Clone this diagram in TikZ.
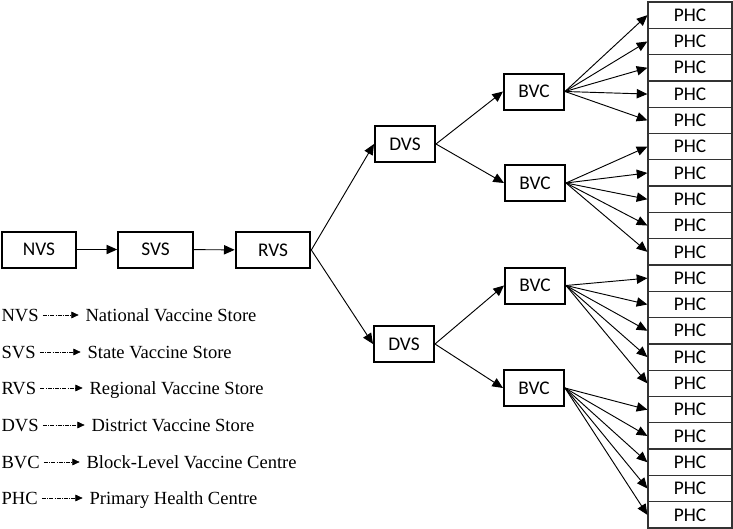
\documentclass[tikz,border=0pt]{standalone}
\usepackage{fontspec}
\setmainfont{Liberation Serif}
\setsansfont{Carlito}
\usepackage{tikz}
\usetikzlibrary{arrows.meta}
\tikzstyle{store}=[draw,line width=1.5pt,minimum height=27pt,inner sep=0pt,font=\sffamily\fontsize{14.5}{16}\selectfont]
\tikzstyle{wide}=[store,minimum width=56pt]
\tikzstyle{narrow}=[store,minimum width=45pt]
\tikzstyle{phc}=[draw=black!80,line width=0.9pt,minimum width=63pt,minimum height=19.7pt,inner sep=0pt,font=\sffamily\fontsize{14.5}{16}\selectfont]
\tikzstyle{feed}=[line width=0.7pt,-{Triangle[length=8pt,width=7pt]}]
\tikzstyle{key}=[anchor=west,inner sep=1pt,text height=10pt,text depth=0.8pt,font=\fontsize{13.9}{16}\selectfont]
\tikzstyle{means}=[line width=0.5pt,densely dash dot,-{Triangle[length=5.5pt,width=5pt]},shorten <=2pt,shorten >=4pt]

\begin{document}
\begin{tikzpicture}[x=0.75pt,y=-0.75pt]
	\useasboundingbox (0,0) rectangle (733,529);

	% supply chain
	\node[wide] (nvs) at (39,249.5) {NVS};
	\node[wide] (svs) at (155.5,249.5) {SVS};
	\node[wide] (rvs) at (273,250) {RVS};
	\node[narrow] (dvsa) at (405,144) {DVS};
	\node[narrow] (dvsb) at (404,344) {DVS};
	\node[narrow] (bvca) at (534,91.5) {BVC};
	\node[narrow] (bvcb) at (535,183) {BVC};
	\node[narrow] (bvcc) at (535,285.5) {BVC};
	\node[narrow] (bvcd) at (534,388) {BVC};

	% primary health centres
	\node[phc] (p1) at (690,15.15) {PHC};
	\node[phc] (p2) at (690,41.45) {PHC};
	\node[phc] (p3) at (690,67.75) {PHC};
	\node[phc] (p4) at (690,94.05) {PHC};
	\node[phc] (p5) at (690,120.35) {PHC};
	\node[phc] (p6) at (690,146.65) {PHC};
	\node[phc] (p7) at (690,172.95) {PHC};
	\node[phc] (p8) at (690,199.25) {PHC};
	\node[phc] (p9) at (690,225.55) {PHC};
	\node[phc] (p10) at (690,251.85) {PHC};
	\node[phc] (p11) at (690,278.15) {PHC};
	\node[phc] (p12) at (690,304.45) {PHC};
	\node[phc] (p13) at (690,330.75) {PHC};
	\node[phc] (p14) at (690,357.05) {PHC};
	\node[phc] (p15) at (690,383.35) {PHC};
	\node[phc] (p16) at (690,409.65) {PHC};
	\node[phc] (p17) at (690,435.95) {PHC};
	\node[phc] (p18) at (690,462.25) {PHC};
	\node[phc] (p19) at (690,488.55) {PHC};
	\node[phc] (p20) at (690,514.85) {PHC};

	\draw[feed] (nvs)--(svs);
	\draw[feed] (svs)--(rvs);
	\draw[feed] (rvs.east)--(dvsa.west);
	\draw[feed] (rvs.east)--(dvsb.west);
	\draw[feed] (dvsa.east)--(bvca.west);
	\draw[feed] (dvsa.east)--(bvcb.west);
	\draw[feed] (dvsb.east)--(bvcc.west);
	\draw[feed] (dvsb.east)--(bvcd.west);

	\draw[feed] (bvca.east)--(p1.west);
	\draw[feed] (bvca.east)--(p2.west);
	\draw[feed] (bvca.east)--(p3.west);
	\draw[feed] (bvca.east)--(p4.west);
	\draw[feed] (bvca.east)--(p5.west);
	\draw[feed] (bvcb.east)--(p6.west);
	\draw[feed] (bvcb.east)--(p7.west);
	\draw[feed] (bvcb.east)--(p8.west);
	\draw[feed] (bvcb.east)--(p9.west);
	\draw[feed] (bvcb.east)--(p10.west);
	\draw[feed] (bvcc.east)--(p11.west);
	\draw[feed] (bvcc.east)--(p12.west);
	\draw[feed] (bvcc.east)--(p13.west);
	\draw[feed] (bvcc.east)--(p14.west);
	\draw[feed] (bvcc.east)--(p15.west);
	\draw[feed] (bvcd.east)--(p16.west);
	\draw[feed] (bvcd.east)--(p17.west);
	\draw[feed] (bvcd.east)--(p18.west);
	\draw[feed] (bvcd.east)--(p19.west);
	\draw[feed] (bvcd.east)--(p20.west);

	% legend
	\node[key] (knvs) at (0,315) {NVS};
	\node[key] (dnvs) at (84,315) {National Vaccine Store};
	\node[key] (ksvs) at (0,352) {SVS};
	\node[key] (dsvs) at (86,352) {State Vaccine Store};
	\node[key] (krvs) at (0,388) {RVS};
	\node[key] (drvs) at (88,388) {Regional Vaccine Store};
	\node[key] (kdvs) at (0,425) {DVS};
	\node[key] (ddvs) at (90,425) {District Vaccine Store};
	\node[key] (kbvc) at (0,462) {BVC};
	\node[key] (dbvc) at (85,462) {Block-Level Vaccine Centre};
	\node[key] (kphc) at (0,498) {PHC};
	\node[key] (dphc) at (88,498) {Primary Health Centre};
	\draw[means] (knvs)--(dnvs);
	\draw[means] (ksvs)--(dsvs);
	\draw[means] (krvs)--(drvs);
	\draw[means] (kdvs)--(ddvs);
	\draw[means] (kbvc)--(dbvc);
	\draw[means] (kphc)--(dphc);
\end{tikzpicture}
\end{document}
